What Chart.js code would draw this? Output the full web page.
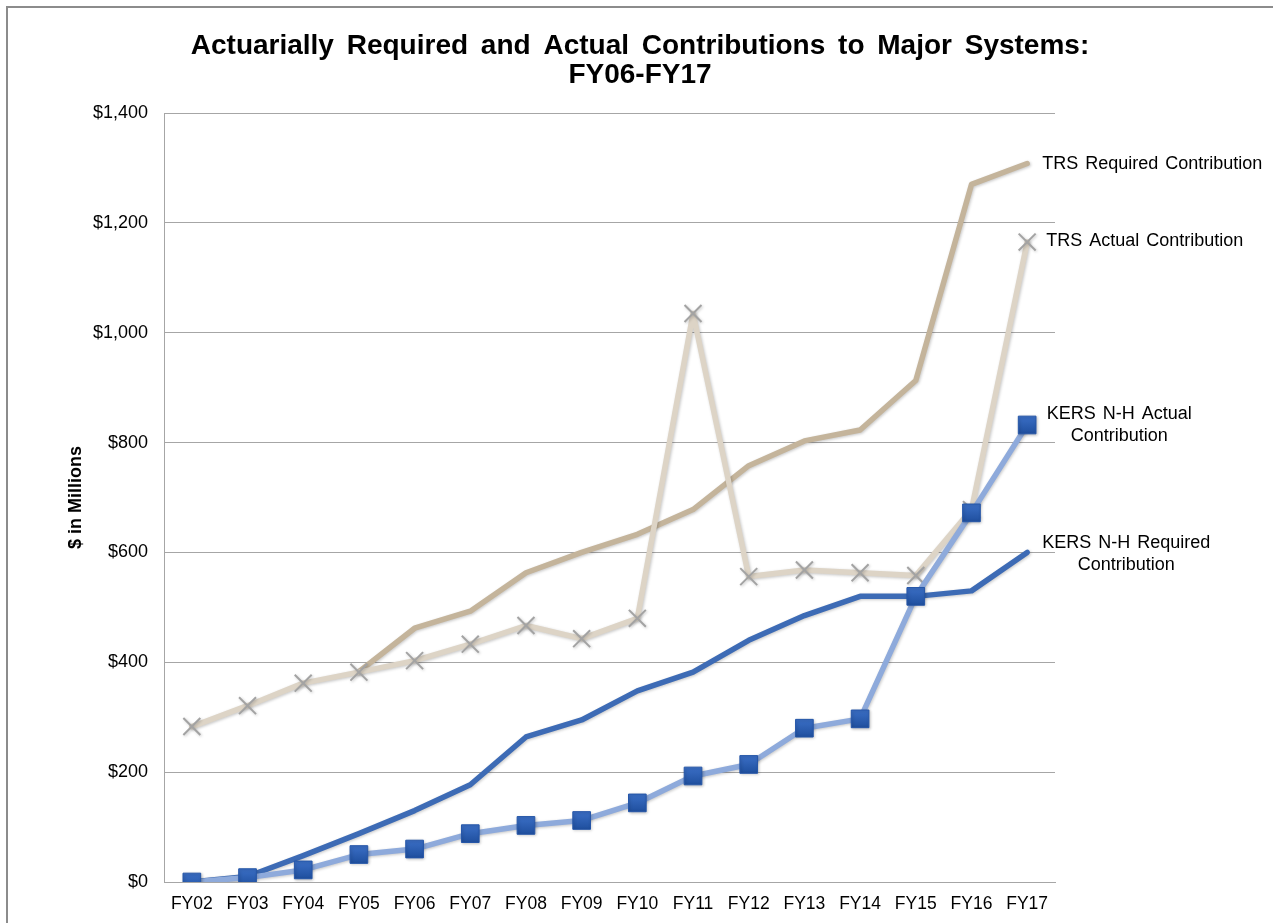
<!DOCTYPE html>
<html>
<head>
<meta charset="utf-8">
<script src="https://cdn.jsdelivr.net/npm/chart.js@4/dist/chart.umd.min.js"></script>
<style>
  html, body { margin: 0; padding: 0; background: #fff; }
  #wrap { position: relative; width: 1273px; height: 923px; }
  #frame { position: absolute; left: 6px; top: 6px; right: 0; bottom: 0;
           border-left: 2px solid #8c8c8c; border-top: 2px solid #8c8c8c; pointer-events: none; }
  canvas { position: absolute; left: 0; top: 0; }
</style>
</head>
<body>
<div id="wrap">
  <canvas id="c" width="1273" height="923"></canvas>
  <div id="frame"></div>
</div>
<script>
const categories = ['FY02','FY03','FY04','FY05','FY06','FY07','FY08','FY09','FY10','FY11','FY12','FY13','FY14','FY15','FY16','FY17'];
const trsRequired = [null, null, null, 383, 462, 493, 563, 600, 633, 678, 758, 803, 823, 913, 1270, 1308];
const trsActual   = [283, 321, 362, 382, 403, 433, 467, 443, 480, 1035, 556, 568, 563, 558, 678, 1165];
const kersRequired = [0, 10, 48, 88, 130, 177, 264, 295, 348, 382, 440, 485, 520, 520, 530, 600];
const kersActual   = [0, 8, 22, 50, 60, 88, 103, 112, 144, 193, 214, 280, 297, 520, 672, 832];
const seriesNames = ['TRS Required Contribution', 'TRS Actual Contribution', 'KERS N-H Actual Contribution', 'KERS N-H Required Contribution'];
const endLabels = [
  ['TRS Required Contribution'],
  ['TRS Actual Contribution'],
  ['KERS N-H Actual', 'Contribution'],
  ['KERS N-H Required', 'Contribution']
];
const yTicks = [0, 200, 400, 600, 800, 1000, 1200, 1400];
const titleLines = ['Actuarially Required and Actual Contributions to Major Systems:', 'FY06-FY17'];
const yTitle = '$ in Millions';

const FONT = "'Liberation Sans', Arial, sans-serif";

const titlePlugin = {
  id: 'customTitle',
  afterDraw(chart) {
    const ctx = chart.ctx;
    ctx.save();
    ctx.font = 'bold 28px ' + FONT;
    ctx.fillStyle = '#000';
    ctx.textAlign = 'center';
    ctx.textBaseline = 'middle';
    try { ctx.wordSpacing = '5px'; } catch (e) {}
    ctx.fillText(titleLines[0], 640, 46);
    ctx.fillText(titleLines[1], 640, 75);
    ctx.restore();
  }
};

const endLabelPlugin = {
  id: 'endLabels',
  afterDatasetsDraw(chart) {
    const ctx = chart.ctx;
    ctx.save();
    ctx.font = '18px ' + FONT;
    try { ctx.wordSpacing = '2px'; } catch (e) {}
    ctx.fillStyle = '#000';
    ctx.textBaseline = 'middle';
    chart.data.datasets.forEach((ds, i) => {
      const meta = chart.getDatasetMeta(i);
      const pt = meta.data[meta.data.length - 1];
      const lines = endLabels[ds.labelIndex];
      const lh = 22;
      const y0 = pt.y - (lines.length - 1) * lh / 2 + (ds.labelDy || 0);
      if (lines.length === 1) {
        ctx.textAlign = 'left';
        ctx.fillText(lines[0], pt.x + (ds.labelDx || 15), y0);
      } else {
        ctx.textAlign = 'center';
        const cx = pt.x + (ds.labelDx || 95);
        lines.forEach((t, k) => ctx.fillText(t, cx, y0 + k * lh));
      }
    });
    ctx.restore();
  }
};

const shadowPlugin = {
  id: 'shadow',
  beforeDatasetDraw(chart) {
    const ctx = chart.ctx;
    ctx.save();
    ctx.shadowColor = 'rgba(0,0,0,0.22)';
    ctx.shadowBlur = 3;
    ctx.shadowOffsetX = 1;
    ctx.shadowOffsetY = 1;
  },
  afterDatasetDraw(chart) {
    chart.ctx.restore();
  }
};

function squareFill(ctx) {
  const el = ctx.element;
  if (!el || el.y === undefined) return '#2b5db2';
  const c = ctx.chart.ctx;
  const g = c.createLinearGradient(0, el.y - 9, 0, el.y + 9);
  g.addColorStop(0, '#3b6fc6');
  g.addColorStop(1, '#1f4f9e');
  return g;
}

new Chart(document.getElementById('c'), {
  type: 'line',
  data: {
    labels: categories,
    datasets: [
      { label: seriesNames[0], labelIndex: 0, data: trsRequired, borderColor: '#c4b49b', borderWidth: 5.5,
        pointRadius: 0, pointHoverRadius: 0, order: 4, labelDx: 15, labelDy: 0 },
      { label: seriesNames[1], labelIndex: 1, data: trsActual, borderColor: '#ddd4c6', borderWidth: 5.5,
        pointStyle: 'crossRot', pointRadius: 12, pointBorderColor: '#a3a3a3', pointBorderWidth: 2,
        pointBackgroundColor: '#a3a3a3', order: 3, labelDx: 19, labelDy: -1 },
      { label: seriesNames[2], labelIndex: 2, data: kersActual, borderColor: '#8eaadb', borderWidth: 5.5,
        pointStyle: 'rect', pointRadius: 12.5, pointBackgroundColor: squareFill, pointBorderColor: '#2556a8',
        pointBorderWidth: 1, order: 1, labelDx: 92, labelDy: 0 },
      { label: seriesNames[3], labelIndex: 3, data: kersRequired, borderColor: '#3d6bb5', borderWidth: 5.5,
        pointRadius: 0, pointHoverRadius: 0, order: 2, labelDx: 99, labelDy: 2 }
    ]
  },
  plugins: [shadowPlugin, endLabelPlugin, titlePlugin],
  options: {
    responsive: false,
    animation: false,
    devicePixelRatio: 1,
    layout: { padding: { left: 62, right: 218, top: 113, bottom: 0 } },
    plugins: {
      legend: { display: false },
      tooltip: { enabled: false },
      title: { display: false }
    },
    elements: { line: { tension: 0, borderCapStyle: 'round', borderJoinStyle: 'round' } },
    scales: {
      x: {
        offset: true,
        grid: { display: false, drawTicks: false },
        border: { display: true, color: '#a6a6a6', width: 1 },
        ticks: { color: '#000', font: { family: FONT, size: 17.5 }, padding: 12, maxRotation: 0, autoSkip: false },
        afterFit(s) { s.height = 41; }
      },
      y: {
        min: 0, max: 1400,
        afterBuildTicks(s) { s.ticks = yTicks.map(v => ({ value: v })); },
        grid: { color: '#a6a6a6', lineWidth: 1, drawTicks: false },
        border: { display: true, color: '#a6a6a6', width: 1 },
        ticks: { color: '#000', font: { family: FONT, size: 18 }, padding: 16,
                 callback: v => '$' + Number(v).toLocaleString('en-US') },
        title: { display: true, text: yTitle, color: '#000', font: { family: FONT, size: 18, weight: 'bold' }, padding: { top: 3, bottom: 0 } },
        afterFit(s) { s.width = 102; }
      }
    }
  }
});
</script>
</body>
</html>
